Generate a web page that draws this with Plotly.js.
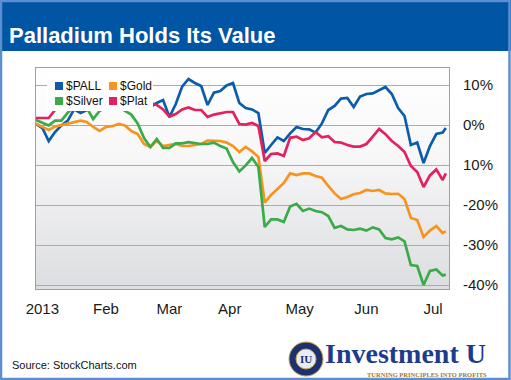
<!DOCTYPE html>
<html><head><meta charset="utf-8">
<script src="https://cdn.plot.ly/plotly-3.0.1.min.js"></script>
<style>
html,body{margin:0;padding:0;background:#fff;}
#wrap{position:relative;width:511px;height:380px;overflow:hidden;background:#fff;}
#bg{position:absolute;left:36px;top:68px;width:413px;height:221px;background:linear-gradient(to bottom,#ffffff 0%,#f7f7f8 40%,#dcdde0 100%);}
#chart{position:absolute;left:0;top:0;width:511px;height:380px;}
</style></head><body>
<div id="wrap"><div id="bg"></div><div id="chart"></div></div>
<script>
// Trading days since 31 Dec 2012
const days = [0,2,4,6,8,10,12,14,16,18,20,22,24,26,28,30,32,34,36,38,40,42,44,46,48,50,52,54,56,58,60,62,64,66,68,70,72,74,76,78,80,82,84,86,88,90,92,94,96,98,100,102,104,106,108,110,112,114,116,118,120,122,124,126,128,129];
// Percent performance
const pall = [0.3,-0.75,-4,-1.75,-0.1,1.1,3.9,3,3.75,5,6,5.5,6.5,6,5.5,6,5,5.5,4.5,5.5,6.25,2,5.25,9.6,11.5,10.5,9.75,5,8.1,8.5,9.9,10.5,5.5,4.25,3.9,3,-7,-5,-3.1,-4,-2.1,-0.5,-1,-1.1,-1.9,0.4,3.75,4.75,6.6,6.75,4.5,7.1,7.75,7.9,8.6,9.5,7.75,4.25,2.25,-5,-4.4,-9.5,-5.25,-2.25,-1.9,-0.75];
const gold = [0.3,-0.5,-1.25,-0.4,0,0.25,0.75,1.1,0.75,-0.5,-1.5,-0.5,-0.3,0.25,-0.1,-1.5,-2.25,-4.75,-5.5,-4,-5.25,-5,-4.75,-5.25,-5.25,-5,-4.75,-3.9,-4,-4,-4.4,-5.25,-6.75,-5.5,-6.6,-8,-19.4,-17.5,-16,-14.5,-12.1,-12.5,-12.1,-12.1,-12.75,-13.2,-15.25,-17.1,-18.5,-18,-17.3,-17,-16.25,-16.5,-16.25,-17.1,-17.25,-17.2,-18.5,-23.25,-23.75,-28,-26.4,-25.25,-27,-26.6];
const silver = [1.25,0.5,-0.1,1.1,1.1,3.1,4.5,5,4.25,1.5,3.5,4.5,4.75,4.5,3.5,2.6,0.4,-3.25,-5.5,-3.5,-5.75,-5.75,-4.6,-4.6,-4.3,-4.6,-4.75,-4.75,-4.4,-5.25,-5.9,-9.25,-11.6,-10.1,-8.25,-10.5,-25.5,-23.6,-23.6,-24.25,-20.4,-19.7,-21.5,-20.9,-21.5,-21.8,-22.75,-25.7,-25.25,-26.1,-26.25,-25.9,-26.4,-25.6,-26.1,-28.25,-28.6,-28.1,-29.1,-35,-35.25,-40,-36.5,-36.1,-37.6,-37.4];
const plat = [1.75,1.75,1.75,3.75,5,5.5,6,6.5,6,6.5,7,6.5,7,6.5,7,6.5,6,5.5,5.5,5,3.9,2.1,2.75,3.9,4.4,3.75,3.75,2,2.6,2.9,3.25,3.25,0.25,0.1,0.5,-0.25,-9,-7.25,-7.1,-7.75,-3.2,-2.9,-3.75,-3.3,-1.75,-3.1,-2.8,-4.25,-4.4,-5,-5.4,-5.4,-4.75,-2.9,-1,-2.3,-4,-5.25,-6.75,-10.25,-11.75,-15.5,-12.6,-11.1,-13.75,-12.1];

const seriesNames = ["$PALL","$Gold","$Silver","$Plat"];
const seriesColors = ["#0b5cad","#f7931e","#3aab48","#e2215e"];
const monthTicks = [2,22,42,61,83,104,125];
const monthLabels = ["2013","Feb","Mar","Apr","May","Jun","Jul"];
const pctTicks = [10,0,-10,-20,-30,-40];
const pctLabels = ["10%","0%","10%","-20%","-30%","-40%"];

// plot box in pixels (for placing decorations in paper units)
const L = 36, T = 68, W = 413, H = 221;
const X = p => (p - L) / W;
const Y = p => (T + H - p) / H;

const values = [pall, gold, silver, plat];
const traces = values.map((v, i) => ({
  type: 'scatter', mode: 'lines', x: days, y: v, name: seriesNames[i],
  line: {color: seriesColors[i], width: 2.7}, showlegend: false, hoverinfo: 'skip'
}));

const shapes = [
  {type:'rect', xref:'paper', yref:'paper', x0:X(0), x1:X(511), y0:Y(0), y1:Y(51), fillcolor:'#0055a5', line:{width:0}, layer:'below'},
  {type:'rect', xref:'paper', yref:'paper', x0:X(47), x1:X(153), y0:Y(76), y1:Y(111), fillcolor:'#ffffff', line:{width:0}, layer:'above'},
  {type:'rect', xref:'paper', yref:'paper', x0:X(1), x1:X(509.5), y0:Y(1), y1:Y(379), fillcolor:'rgba(0,0,0,0)', line:{color:'#5b8fd1', width:2.5}, layer:'above'},
  {type:'circle', xref:'paper', yref:'paper', x0:X(289), x1:X(323), y0:Y(342), y1:Y(376), fillcolor:'#1d3170', line:{color:'#c9a44a', width:1}, layer:'above'},
  {type:'circle', xref:'paper', yref:'paper', x0:X(296), x1:X(316), y0:Y(349), y1:Y(369), fillcolor:'#e8ecf5', line:{color:'#c9a44a', width:1}, layer:'above'}
];
const legendPos = [[55,82],[109,82],[55,97],[109,97]];
legendPos.forEach((p, i) => shapes.push({type:'rect', xref:'paper', yref:'paper', x0:X(p[0]), x1:X(p[0]+8), y0:Y(p[1]), y1:Y(p[1]+8), fillcolor:seriesColors[i], line:{width:0}, layer:'above'}));

const annotations = legendPos.map((p, i) => ({
  xref:'paper', yref:'paper', x:X(p[0]+9), y:Y(p[1]+4), xanchor:'left', yanchor:'middle', showarrow:false,
  text: seriesNames[i], font:{family:'Liberation Sans, Arial, sans-serif', size:12, color:'#111'}
}));
annotations.push(
  {xref:'paper', yref:'paper', x:X(10), y:Y(365), xanchor:'left', yanchor:'middle', showarrow:false,
   text:'Source: StockCharts.com', font:{family:'Liberation Sans, Arial, sans-serif', size:11, color:'#111'}},
  {xref:'paper', yref:'paper', x:X(306), y:Y(359), xanchor:'center', yanchor:'middle', showarrow:false,
   text:'IU', font:{family:'Liberation Serif, serif', size:11, color:'#1d3170', weight:'bold'}},
  {xref:'paper', yref:'paper', x:X(323), y:Y(353), xanchor:'left', yanchor:'middle', showarrow:false,
   text:'Investment U', font:{family:'Liberation Serif, serif', size:28, color:'#1e3c8c', weight:'bold'}},
  {xref:'paper', yref:'paper', x:X(489), y:Y(374.5), xanchor:'right', yanchor:'middle', showarrow:false,
   text:'TURNING PRINCIPLES INTO PROFITS', font:{family:'Liberation Serif, serif', size:6.5, color:'#a07a2a', weight:'bold'}}
);

const layout = {
  width:511, height:380,
  margin:{l:L, r:511-L-W, t:T, b:380-T-H, pad:0},
  paper_bgcolor:'rgba(0,0,0,0)', plot_bgcolor:'rgba(0,0,0,0)',
  font:{family:'Liberation Sans, Arial, sans-serif', color:'#1a1a1a', size:15},
  title:{text:'Palladium Holds Its Value', xref:'container', yref:'container', x:9/511, xanchor:'left', y:1-35/380, yanchor:'middle',
    font:{family:'Liberation Sans, Arial, sans-serif', size:22, color:'#ffffff', weight:'bold'}},
  showlegend:false,
  xaxis:{range:[0,130], tickmode:'array', tickvals:monthTicks, ticktext:monthLabels, showgrid:false, zeroline:false,
    showline:true, mirror:true, linecolor:'#a0a0a0', linewidth:1, ticks:'', tickfont:{size:15, color:'#1a1a1a'}, ticklabelstandoff:6, fixedrange:true},
  yaxis:{side:'right', range:[-41,14.25], tickmode:'array', tickvals:pctTicks, ticktext:pctLabels, showgrid:true, gridcolor:'#ababab', gridwidth:1,
    zeroline:false, showline:true, mirror:true, linecolor:'#a0a0a0', linewidth:1, ticks:'', tickfont:{size:15, color:'#1a1a1a'}, ticklabelstandoff:10, fixedrange:true},
  shapes: shapes,
  annotations: annotations
};
Plotly.newPlot('chart', traces, layout, {staticPlot:true, displayModeBar:false});
</script>
</body></html>
